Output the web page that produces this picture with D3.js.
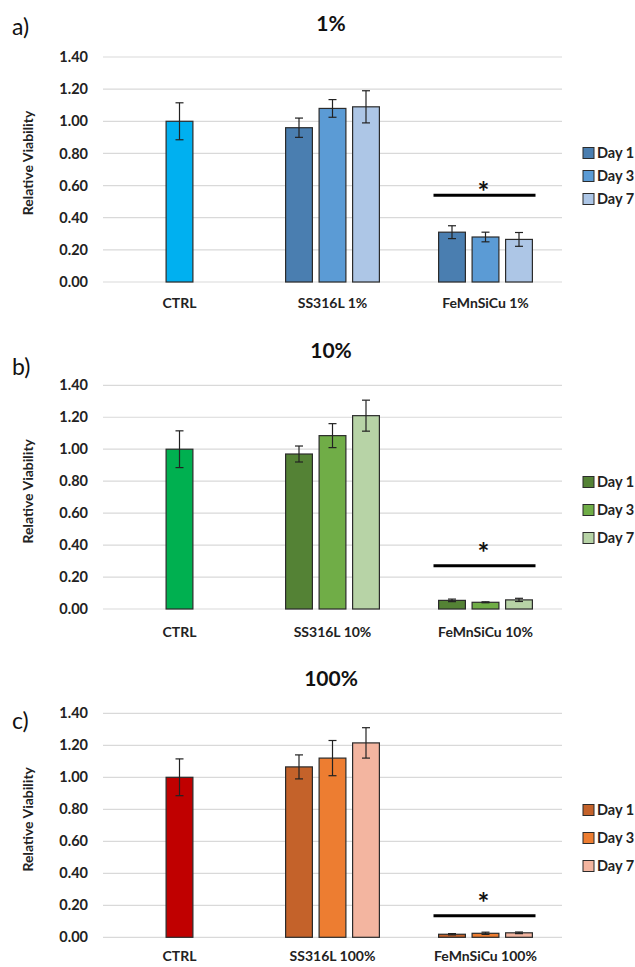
<!DOCTYPE html>
<html>
<head>
<meta charset="utf-8">
<script src="https://cdn.jsdelivr.net/npm/d3@7"></script>
<style>
  body { margin: 0; background: #fff; }
  text { font-family: Lato, "Open Sans", sans-serif; }
</style>
</head>
<body>
<div id="chart"></div>
<script>
  /* Data */
  var categories = ["CTRL", "SS316L", "FeMnSiCu"];
  var days = ["Day 1", "Day 3", "Day 7"];
  var yTicks = [0, 0.2, 0.4, 0.6, 0.8, 1.0, 1.2, 1.4];
  var panelTitles = ["1%", "10%", "100%"];
  var panelLetters = ["a)", "b)", "c)"];

  var ctrlValues = [1.00, 1.00, 1.00];
  var ctrlErrors = [0.115, 0.115, 0.115];

  var ssValues = [
    [0.96, 1.08, 1.09],
    [0.97, 1.085, 1.21],
    [1.065, 1.12, 1.215]
  ];
  var ssErrors = [
    [0.06, 0.055, 0.10],
    [0.05, 0.075, 0.097],
    [0.075, 0.11, 0.095]
  ];

  var feValues = [
    [0.31, 0.28, 0.265],
    [0.054, 0.042, 0.057],
    [0.019, 0.025, 0.028]
  ];
  var feErrors = [
    [0.04, 0.03, 0.043],
    [0.008, 0.003, 0.01],
    [0.004, 0.007, 0.005]
  ];

  var sigLevels = [0.54, 0.27, 0.135];

  /* Colours per panel: CTRL, Day 1, Day 3, Day 7 */
  var ctrlColors = ["#00b0f0", "#00b050", "#c00000"];
  var dayColors = [
    ["#4a7eb0", "#5b9bd5", "#adc6e6"],
    ["#548235", "#70ad47", "#b7d3a6"],
    ["#c4622a", "#ed7d31", "#f3b5a0"]
  ];

  /* Layout */
  var width = 635, height = 967;
  var left = 103, right = 562;
  var panels = [
    {top: 57,    bottom: 282,   title: 23.5, letter: 27,  cat: 303, legend: [153, 176, 199], star: 14},
    {top: 385.3, bottom: 609,   title: 351,  letter: 367, cat: 632, legend: [482, 510, 538], star: 24},
    {top: 713.3, bottom: 937.3, title: 679,  letter: 721, cat: 956, legend: [810, 838, 866], star: 24}
  ];

  var svg = d3.select("#chart").append("svg")
    .attr("width", width)
    .attr("height", height);

  var x = d3.scaleBand()
    .domain(categories)
    .range([left, right]);

  var xDay = d3.scaleBand()
    .domain(days)
    .range([-50.25, 50.25])
    .paddingInner(0.2)
    .paddingOuter(0.1);

  panels.forEach(function(p, i) {
    var y = d3.scaleLinear()
      .domain([0, 1.4])
      .range([p.bottom, p.top]);

    var g = svg.append("g").attr("class", "panel");

    // gridlines
    g.selectAll(".grid")
      .data(yTicks).enter()
      .append("line")
      .attr("x1", left)
      .attr("x2", right)
      .attr("y1", d => y(d))
      .attr("y2", d => y(d))
      .attr("stroke", "#d9d9d9")
      .attr("stroke-width", 1.2);

    // y axis (labels only)
    var yAxis = d3.axisLeft(y)
      .tickValues(yTicks)
      .tickFormat(d3.format(".2f"))
      .tickSize(0)
      .tickPadding(15);

    var ya = g.append("g")
      .attr("transform", `translate(${left}, 0)`)
      .call(yAxis);
    ya.select(".domain").remove();
    ya.selectAll("text")
      .attr("font-size", 14.5)
      .attr("font-weight", "bold")
      .attr("fill", "#222");

    // x axis (labels only)
    var xLabels = categories.map(function(c) {
      return c == "CTRL" ? c : c + " " + panelTitles[i];
    });
    var xAxis = d3.axisBottom(x)
      .tickSize(0)
      .tickFormat((d, j) => xLabels[j]);
    var xa = g.append("g")
      .attr("transform", `translate(0, ${p.cat})`)
      .call(xAxis);
    xa.select(".domain").remove();
    xa.selectAll("text")
      .attr("y", 0)
      .attr("dy", "0.35em")
      .attr("font-size", 14)
      .attr("font-weight", "bold")
      .attr("fill", "#222");

    // axis title
    g.append("text")
      .attr("transform", `translate(33, ${p.top + 106}) rotate(-90)`)
      .attr("text-anchor", "middle")
      .attr("font-size", 14)
      .attr("font-weight", "bold")
      .attr("fill", "#222")
      .text("Relative Viability");

    // panel title
    g.append("text")
      .attr("x", 331)
      .attr("y", p.title)
      .attr("dy", "0.35em")
      .attr("text-anchor", "middle")
      .attr("font-size", 21)
      .attr("font-weight", "bold")
      .attr("fill", "#111")
      .text(panelTitles[i]);

    // panel letter
    g.append("text")
      .attr("x", 12)
      .attr("y", p.letter)
      .attr("dy", "0.35em")
      .attr("font-size", 23)
      .attr("fill", "#111")
      .text(panelLetters[i]);

    // bars
    var bars = [{x: x("CTRL") + x.bandwidth() / 2 - xDay.bandwidth() / 2,
                 v: ctrlValues[i], e: ctrlErrors[i], c: ctrlColors[i]}];
    days.forEach(function(d, j) {
      bars.push({x: x("SS316L") + x.bandwidth() / 2 + xDay(d),
                 v: ssValues[i][j], e: ssErrors[i][j], c: dayColors[i][j]});
      bars.push({x: x("FeMnSiCu") + x.bandwidth() / 2 + xDay(d),
                 v: feValues[i][j], e: feErrors[i][j], c: dayColors[i][j]});
    });

    g.selectAll(".bar")
      .data(bars).enter()
      .append("rect")
      .attr("x", d => d.x)
      .attr("y", d => y(d.v))
      .attr("width", xDay.bandwidth())
      .attr("height", d => y(0) - y(d.v))
      .attr("fill", d => d.c)
      .attr("stroke", "#2b2b2b")
      .attr("stroke-width", 1.2);

    // error bars
    var eb = g.selectAll(".err")
      .data(bars).enter()
      .append("g")
      .attr("stroke", "#222")
      .attr("stroke-width", 1.2);
    var bw = xDay.bandwidth();
    eb.append("line")
      .attr("x1", d => d.x + bw / 2).attr("x2", d => d.x + bw / 2)
      .attr("y1", d => y(d.v + d.e)).attr("y2", d => y(d.v - d.e));
    eb.append("line")
      .attr("x1", d => d.x + bw / 2 - 4).attr("x2", d => d.x + bw / 2 + 4)
      .attr("y1", d => y(d.v + d.e)).attr("y2", d => y(d.v + d.e));
    eb.append("line")
      .attr("x1", d => d.x + bw / 2 - 4).attr("x2", d => d.x + bw / 2 + 4)
      .attr("y1", d => y(d.v - d.e)).attr("y2", d => y(d.v - d.e));

    // significance line and star
    var fc = x("FeMnSiCu") + x.bandwidth() / 2;
    g.append("line")
      .attr("x1", fc - 52)
      .attr("x2", fc + 50)
      .attr("y1", y(sigLevels[i]))
      .attr("y2", y(sigLevels[i]))
      .attr("stroke", "#000")
      .attr("stroke-width", 3);
    g.append("text")
      .attr("x", fc - 2)
      .attr("y", y(sigLevels[i]) - p.star)
      .attr("dy", "0.75em")
      .attr("text-anchor", "middle")
      .attr("font-size", 28)
      .attr("font-weight", "bold")
      .attr("fill", "#111")
      .text("*");

    // legend
    var lg = g.selectAll(".legend")
      .data(days).enter()
      .append("g")
      .attr("transform", (d, j) => `translate(583, ${p.legend[j]})`);
    lg.append("rect")
      .attr("x", 0)
      .attr("y", -5.5)
      .attr("width", 11)
      .attr("height", 11)
      .attr("fill", (d, j) => dayColors[i][j])
      .attr("stroke", "#2b2b2b")
      .attr("stroke-width", 1);
    lg.append("text")
      .attr("x", 14)
      .attr("y", 0)
      .attr("dy", "0.35em")
      .attr("font-size", 14.5)
      .attr("font-weight", "bold")
      .attr("fill", "#222")
      .text(d => d);
  });
</script>
</body>
</html>
